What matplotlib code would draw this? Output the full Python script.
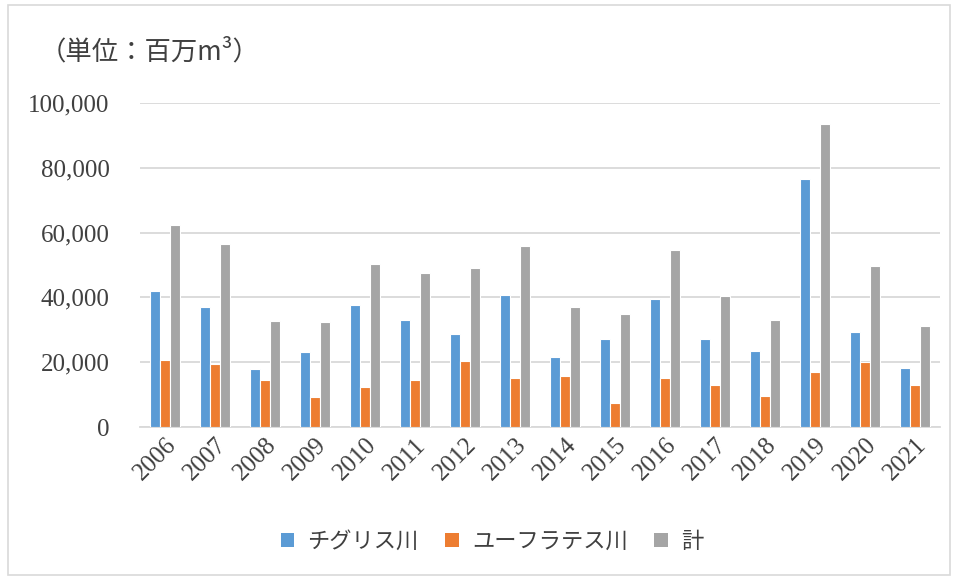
import matplotlib
matplotlib.use("Agg")
import matplotlib.pyplot as plt
from matplotlib.patches import Rectangle, Patch
import numpy as np

years = ["2006", "2007", "2008", "2009", "2010", "2011", "2012", "2013",
         "2014", "2015", "2016", "2017", "2018", "2019", "2020", "2021"]
tigris = [41900, 37000, 17800, 23000, 37600, 32900, 28600, 40600,
          21600, 27300, 39500, 27300, 23400, 76500, 29400, 18100]
euphrates = [20600, 19300, 14600, 9200, 12400, 14400, 20400, 15200,
             15600, 7400, 15200, 13100, 9600, 16900, 20100, 13000]
total = [62400, 56400, 32700, 32400, 50200, 47500, 49100, 55800,
         37100, 34900, 54600, 40400, 33000, 93600, 49600, 31100]
series_names = ["チグリス川", "ユーフラテス川", "計"]
colors = ["#5B9BD5", "#ED7D31", "#A5A5A5"]
yticks = [0, 20000, 40000, 60000, 80000, 100000]

W, H = 958, 579
fig = plt.figure(figsize=(W / 100, H / 100), dpi=100)
ax = fig.add_axes([140 / W, 1 - 427 / H, 800 / W, 324 / H])

x = np.arange(len(years))
bw = 0.2
for i, (vals, c) in enumerate(zip([tigris, euphrates, total], colors)):
    ax.bar(x + (i - 1) * bw, vals, width=bw, color=c, edgecolor="white",
           linewidth=0.8, zorder=3)

ax.set_xlim(-0.5, len(years) - 0.5)
ax.set_ylim(0, 100000)
ax.set_yticks(yticks)
ax.set_yticklabels([f"{v:,}" for v in yticks], family="Liberation Serif",
                   fontsize=18, color="#404040")
ax.grid(axis="y", color="#d9d9d9", linewidth=1.3, zorder=0)
ax.set_xticks(x)
ax.set_xticklabels(years, rotation=45, ha="right", rotation_mode="anchor",
                   family="Liberation Serif", fontsize=18, color="#404040")
ax.tick_params(axis="y", length=0, pad=22)
ax.tick_params(axis="x", length=0, pad=5)
for s in ["left", "right", "top"]:
    ax.spines[s].set_visible(False)
ax.spines["bottom"].set_color("#d9d9d9")
ax.spines["bottom"].set_linewidth(1.3)

fig.text(40 / W, 1 - 52 / H, "（単位：百万m³）", family=["Noto Sans CJK JP", "DejaVu Sans"],
         fontsize=19, color="#404040", va="center", ha="left")

handles = [Patch(facecolor=c, edgecolor="none") for c in colors]
fig.legend(handles, series_names, loc="center", bbox_to_anchor=(492 / W, 1 - 541 / H),
           ncol=3, frameon=False, prop={"family": ["Noto Sans CJK JP", "DejaVu Sans"], "size": 16},
           labelcolor="#404040", handlelength=0.6, handleheight=0.6, handletextpad=0.6,
           columnspacing=1.2)

fig.patches.append(Rectangle((8 / W, 4 / H), 942 / W, 570 / H, transform=fig.transFigure,
                             fill=False, edgecolor="#d9d9d9", linewidth=1.2))

fig.savefig("out.png", dpi=100)
